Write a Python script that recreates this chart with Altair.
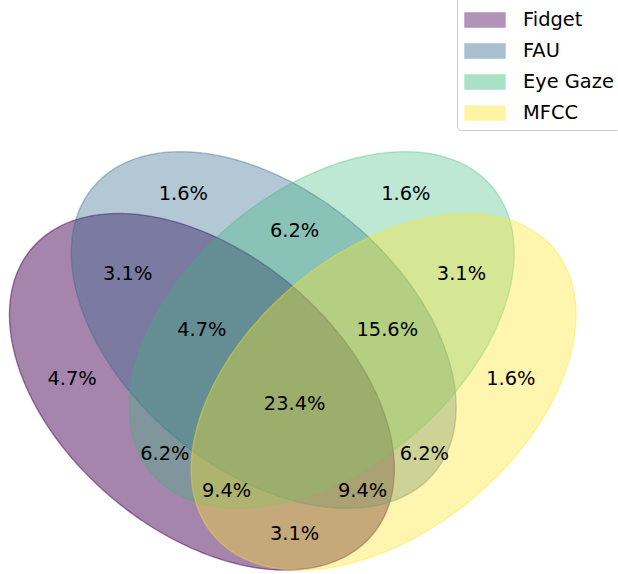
import altair as alt
import numpy as np
import pandas as pd

# ---- data ----
set_names = ["Fidget", "FAU", "Eye Gaze", "MFCC"]
set_colors = ["#440154", "#31688e", "#35b779", "#fde725"]
set_alpha = [0.48, 0.37, 0.32, 0.37]

region_codes = ["0001", "0010", "0011", "0100", "0101", "0110", "0111", "1000",
                "1001", "1010", "1011", "1100", "1101", "1110", "1111"]
region_labels = ["1.6%", "1.6%", "3.1%", "1.6%", "6.2%", "6.2%", "15.6%", "4.7%",
                 "3.1%", "6.2%", "9.4%", "3.1%", "9.4%", "4.7%", "23.4%"]

# ---- layout (pyvenn 4-set geometry, in unit axes coordinates) ----
ell_cx = [0.350, 0.450, 0.544, 0.644]
ell_cy = [0.400, 0.500, 0.500, 0.400]
ell_angle = [140, 140, 40, 40]
ell_w, ell_h = 0.72, 0.45
label_x = [0.85, 0.68, 0.77, 0.32, 0.71, 0.50, 0.65, 0.14, 0.50, 0.29, 0.39, 0.23, 0.61, 0.35, 0.50]
label_y = [0.42, 0.72, 0.59, 0.72, 0.30, 0.66, 0.50, 0.42, 0.17, 0.30, 0.24, 0.59, 0.24, 0.50, 0.38]

t = np.linspace(0, 2 * np.pi, 361)
features = []
for name, cx, cy, ang in zip(set_names, ell_cx, ell_cy, ell_angle):
    a = np.deg2rad(ang)
    xs = cx + ell_w / 2 * np.cos(t) * np.cos(a) - ell_h / 2 * np.sin(t) * np.sin(a)
    ys = cy + ell_w / 2 * np.cos(t) * np.sin(a) + ell_h / 2 * np.sin(t) * np.cos(a)
    coords = [[float(x), float(y)] for x, y in zip(xs, ys)]
    features.append({"type": "Feature", "properties": {"name": name},
                     "geometry": {"type": "Polygon", "coordinates": [coords]}})

labels_df = pd.DataFrame({"code": region_codes, "text": region_labels,
                          "lx": label_x, "ly": label_y})

proj = alt.Projection(type="identity", scale=618, translate=[-14.4, 639], reflectY=True)
FONT = "DejaVu Sans"
FS = 19.4

legend = alt.Legend(
    title=None, orient="none", legendX=457, legendY=-8, padding=7,
    fillColor="white", strokeColor="#cccccc", cornerRadius=4,
    symbolType="M-1,-0.35L1,-0.35L1,0.35L-1,0.35Z", symbolSize=1600,
    symbolStrokeWidth=1.4, symbolOpacity=0.42,
    labelFont=FONT, labelFontSize=FS, labelColor="black",
    labelOffset=17, rowPadding=0,
)
cscale = alt.Scale(domain=set_names, range=set_colors)
ascale = alt.Scale(type="ordinal", domain=set_names, range=set_alpha)

shapes = alt.Chart(alt.Data(values=features)).mark_geoshape(
    strokeWidth=1.4
).encode(
    fill=alt.Fill("properties.name:N", scale=cscale, legend=legend),
    stroke=alt.Stroke("properties.name:N", scale=cscale, legend=legend),
    fillOpacity=alt.FillOpacity("properties.name:N", scale=ascale, legend=None),
    strokeOpacity=alt.StrokeOpacity("properties.name:N", scale=ascale, legend=None),
).project(**proj.to_dict())

texts = alt.Chart(labels_df).mark_text(
    font=FONT, fontSize=FS, color="black", align="center", baseline="middle"
).encode(
    longitude="lx:Q", latitude="ly:Q", text="text:N"
).project(**proj.to_dict())

chart = alt.layer(shapes, texts).properties(
    width=618, height=574, autosize=alt.AutoSizeParams(type="none"), padding=0
).configure_view(stroke=None)

chart.save("out.html", embed_options={"renderer": "svg", "actions": False})
